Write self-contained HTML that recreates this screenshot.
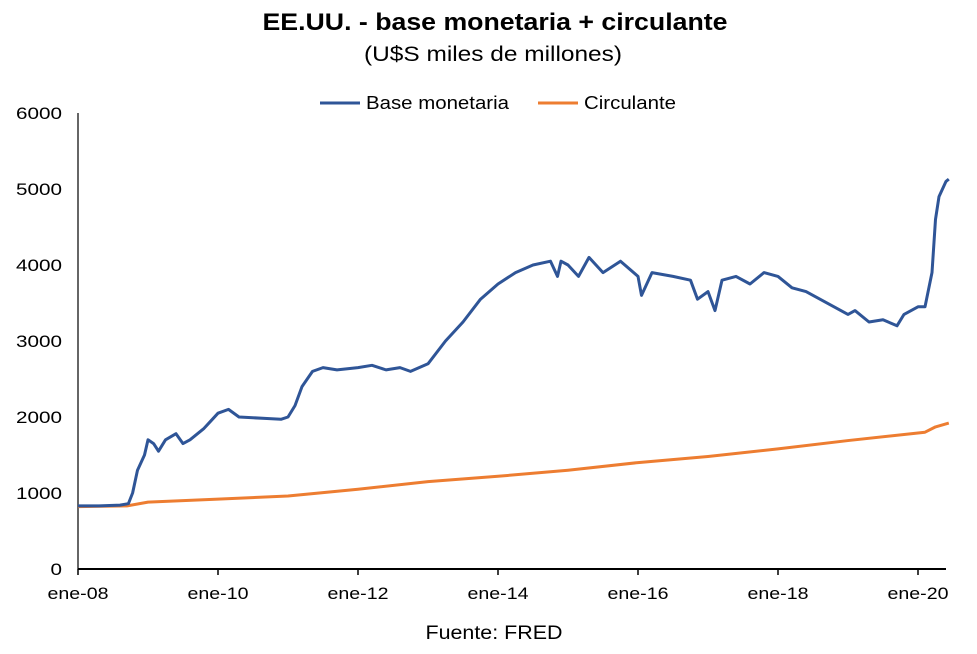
<!DOCTYPE html>
<html><head><meta charset="utf-8"><style>
body{margin:0;background:#fff;width:977px;height:649px;overflow:hidden;font-family:"Liberation Sans",sans-serif}
</style></head><body>
<svg id="chart" width="977" height="649" xmlns="http://www.w3.org/2000/svg">
<text x="495" y="30" text-anchor="middle" font-size="24" font-weight="bold" fill="#000" textLength="465" lengthAdjust="spacingAndGlyphs">EE.UU. - base monetaria + circulante</text>
<text x="493" y="61" text-anchor="middle" font-size="21" fill="#000" textLength="258" lengthAdjust="spacingAndGlyphs">(U$S miles de millones)</text>
<g>
<line x1="320" y1="103" x2="360" y2="103" stroke="#2f5597" stroke-width="3"/>
<text x="366" y="109" font-size="18" textLength="143" lengthAdjust="spacingAndGlyphs">Base monetaria</text>
<line x1="538" y1="103" x2="578" y2="103" stroke="#ed7d31" stroke-width="3"/>
<text x="584" y="109" font-size="18" textLength="92" lengthAdjust="spacingAndGlyphs">Circulante</text>
</g>
<g id="axes"></g>
<g id="series"></g>
<text x="494" y="639" text-anchor="middle" font-size="19" textLength="137" lengthAdjust="spacingAndGlyphs">Fuente: FRED</text>
</svg>
<script>
const yTicks=[0,1000,2000,3000,4000,5000,6000];
const xTickYears=[2008,2010,2012,2014,2016,2018,2020];
const xTickLabels=["ene-08","ene-10","ene-12","ene-14","ene-16","ene-18","ene-20"];
const baseDates=[2008.0,2008.3,2008.6,2008.72,2008.78,2008.85,2008.95,2009.0,2009.08,2009.15,2009.25,2009.4,2009.5,2009.6,2009.8,2009.9,2010.0,2010.15,2010.3,2010.5,2010.7,2010.9,2011.0,2011.1,2011.2,2011.35,2011.5,2011.7,2012.0,2012.2,2012.4,2012.6,2012.75,2013.0,2013.25,2013.5,2013.75,2014.0,2014.25,2014.5,2014.75,2014.85,2014.9,2015.0,2015.15,2015.3,2015.5,2015.75,2016.0,2016.05,2016.2,2016.5,2016.75,2016.85,2017.0,2017.1,2017.2,2017.4,2017.6,2017.8,2018.0,2018.2,2018.4,2018.6,2018.8,2019.0,2019.1,2019.3,2019.5,2019.7,2019.8,2020.0,2020.1,2020.2,2020.25,2020.3,2020.4,2020.44];
const baseValues=[830,830,840,860,1000,1300,1500,1700,1650,1550,1700,1780,1650,1700,1850,1950,2050,2100,2000,1990,1980,1970,2000,2150,2400,2600,2650,2620,2650,2680,2620,2650,2600,2700,3000,3250,3550,3750,3900,4000,4050,3850,4050,4000,3850,4100,3900,4050,3850,3600,3900,3850,3800,3550,3650,3400,3800,3850,3750,3900,3850,3700,3650,3550,3450,3350,3400,3250,3280,3200,3350,3450,3450,3900,4600,4900,5100,5130];
const circDates=[2008.0,2008.7,2009.0,2010.0,2011.0,2012.0,2013.0,2014.0,2015.0,2016.0,2017.0,2018.0,2019.0,2020.0,2020.1,2020.25,2020.44];
const circValues=[820,830,880,920,960,1050,1150,1220,1300,1400,1480,1580,1690,1790,1800,1870,1920];
const NS="http://www.w3.org/2000/svg";
const X0=78,PXY=70,Y0=569,PXV=76/1000;
const xs=t=>X0+(t-2008)*PXY, ys=v=>Y0-v*PXV;
const axes=document.getElementById('axes'),series=document.getElementById('series');
function mk(tag,attrs,parent){const e=document.createElementNS(NS,tag);for(const k in attrs)e.setAttribute(k,attrs[k]);parent.appendChild(e);return e;}
const ya=mk('line',{x1:X0,y1:113,x2:X0,y2:Y0,stroke:'#000','stroke-width':1.2},axes);


const xa=mk('line',{x1:X0,y1:Y0,x2:946,y2:Y0,stroke:'#000','stroke-width':2},axes);


yTicks.forEach(v=>{const s=String(v);const t=mk('text',{x:62,y:ys(v)+6,'text-anchor':'end','font-size':17,textLength:s.length*11.5,lengthAdjust:'spacingAndGlyphs'},axes);t.textContent=s;

});
xTickYears.forEach((y,i)=>{mk('line',{x1:xs(y),y1:Y0,x2:xs(y),y2:Y0+6,stroke:'#000','stroke-width':1.5},axes);
const t=mk('text',{x:xs(y),y:Y0+30,'text-anchor':'middle','font-size':17,textLength:61,lengthAdjust:'spacingAndGlyphs'},axes);t.textContent=xTickLabels[i];

});
function line(d,v,c,name){const p=mk('polyline',{points:d.map((t,i)=>xs(t)+','+ys(v[i])).join(' '),fill:'none',stroke:c,'stroke-width':3,'stroke-linejoin':'round'},series);

}
line(circDates,circValues,'#ed7d31','circulante-line');
line(baseDates,baseValues,'#2f5597','base-monetaria-line');
</script>
</body></html>
